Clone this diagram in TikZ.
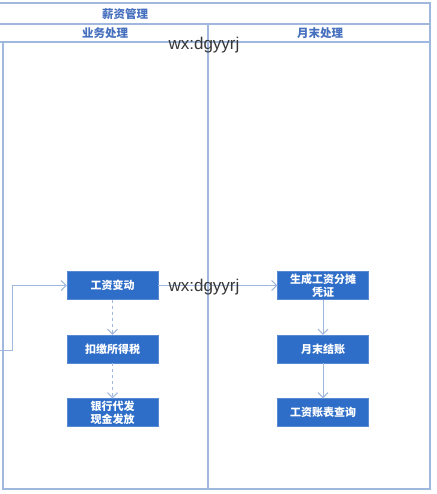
\documentclass[tikz,border=0pt]{standalone}
\usepackage{fontspec}
\setmainfont{Liberation Sans}
\newfontfamily\cjk{Noto Sans CJK SC}
\usetikzlibrary{arrows.meta}
\definecolor{laneline}{RGB}{160,184,222}
\definecolor{boxblue}{RGB}{46,110,200}
\definecolor{headtxt}{RGB}{70,112,190}
\definecolor{wmark}{RGB}{55,55,55}
\tikzset{
  procbox/.style={draw=boxblue!80!white, fill=boxblue, text=white, minimum width=91pt, minimum height=28pt, inner sep=1pt, align=center, font=\cjk\bfseries\fontsize{11}{13}\selectfont},
  headtext/.style={text=headtxt, font=\cjk\bfseries\fontsize{11.5}{13}\selectfont},
  lane/.style={draw=laneline, line width=1.3pt},
  conn/.style={draw=laneline, line width=1pt, -{Straight Barb[length=5pt,width=10pt]}},
  dconn/.style={conn, dashed},
  wm/.style={text=wmark, font=\fontsize{17}{18}\selectfont, inner sep=0pt}
}
\begin{document}
\begin{tikzpicture}[x=1pt,y=-1pt]
\useasboundingbox (0,0) rectangle (436,494);
\fill[white] (0,0) rectangle (436,494);
% frame
\draw[lane] (0,3) -- (430,3) -- (430,489) -- (3,489) -- (3,42);
\draw[lane] (0,24) -- (430,24);
\draw[lane] (0,42) -- (430,42);
\draw[lane] (208,24) -- (208,489);
\node[headtext] (title) at (125,14) {薪资管理};
\node[headtext] (h1) at (105,33) {业务处理};
\node[headtext] (h2) at (320,33) {月末处理};
% boxes
\node[procbox] (a1) at (112.5,285.5) {工资变动};
\node[procbox] (a2) at (112.5,349) {扣缴所得税};
\node[procbox] (a3) at (112.5,412.5) {银行代发\\现金发放};
\node[procbox] (b1) at (323,285.5) {生成工资分摊\\凭证};
\node[procbox] (b2) at (323,349) {月末结账};
\node[procbox] (b3) at (323,412.5) {工资账表查询};
% connectors
\coordinate (src) at (0,350);
\draw[conn] (src) -- (12,350) -- (12,285.5) -- (a1.west);
\draw[conn] (a1) -- (b1);
\draw[dconn] (a1) -- (a2);
\draw[dconn] (a2) -- (a3);
\draw[conn] (b1) -- (b2);
\draw[conn] (b2) -- (b3);
% watermarks
\node[wm] (w1) at (204,45) {wx:dgyyrj};
\node[wm] (w2) at (204,287) {wx:dgyyrj};
\end{tikzpicture}
\end{document}
